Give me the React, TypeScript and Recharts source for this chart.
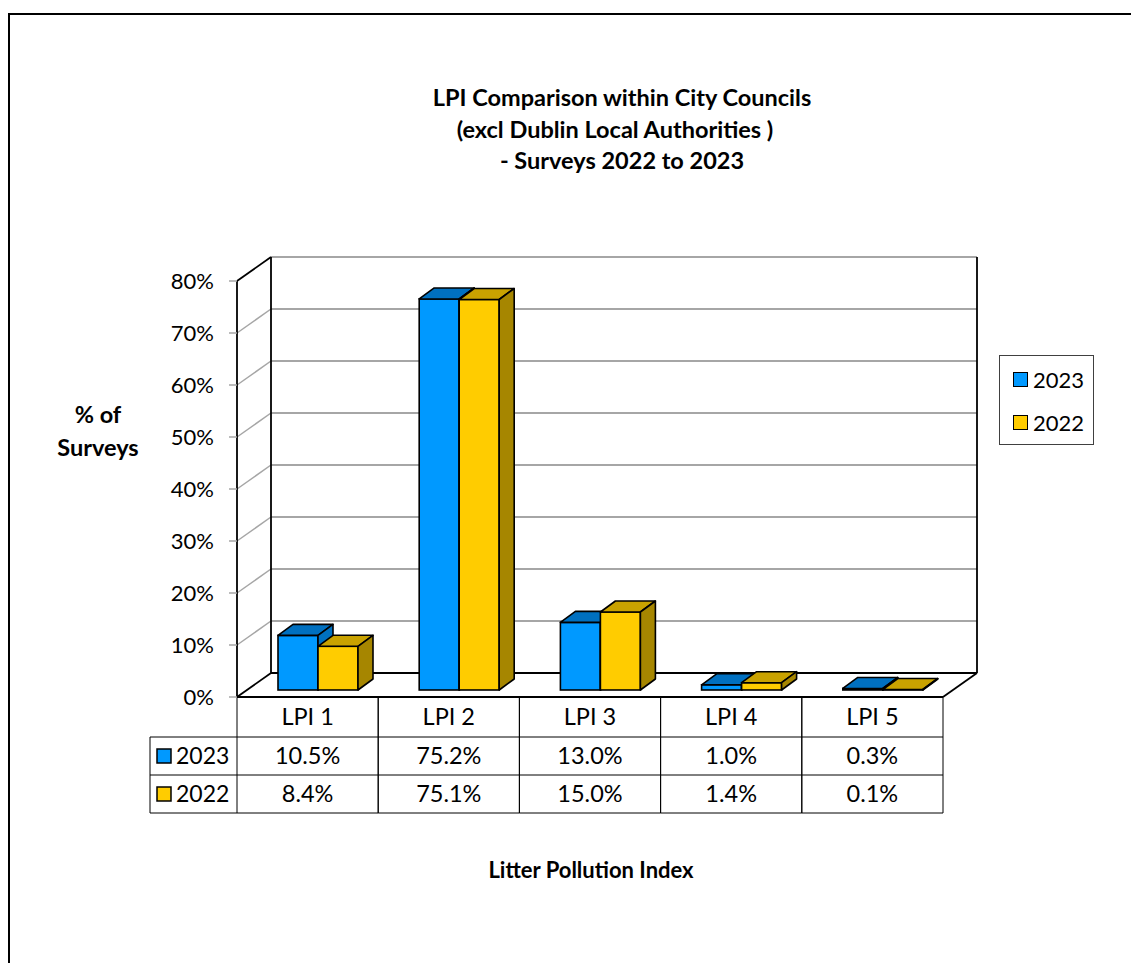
import React from 'react';
import { BarChart, Bar, XAxis, YAxis, CartesianGrid, ReferenceArea } from 'recharts';

const categories = ['LPI 1', 'LPI 2', 'LPI 3', 'LPI 4', 'LPI 5'];
const values2023 = [10.5, 75.2, 13.0, 1.0, 0.3];
const values2022 = [8.4, 75.1, 15.0, 1.4, 0.1];
const seriesNames = ['2023', '2022'];
const yTicks = [0, 10, 20, 30, 40, 50, 60, 70, 80];

const data = categories.map((name, i) => ({
  name,
  y2023: values2023[i],
  y2022: values2022[i],
}));

const FONT = 'Lato, "Open Sans", sans-serif';
const BLUE = '#0099FF';
const BLUE_DARK = '#0070C0';
const GOLD = '#FFCC00';
const GOLD_TOP = '#C9A200';
const GOLD_SIDE = '#A68600';
const GRID = '#A6A6A6';

// plot area (front plane)
const PLOT_LEFT = 237;
const PLOT_TOP = 281;
const PLOT_W = 706;
const PLOT_H = 416;
const PLOT_BOTTOM = PLOT_TOP + PLOT_H;
const CELL_W = PLOT_W / categories.length;

// 3d offsets
const WALL_DX = 34;
const WALL_DY = 24;
const BAR_OX = 10;
const BAR_OY = 7;
const BAR_DX = 15;
const BAR_DY = 11;

// data table rows
const ROW_TOP = [PLOT_BOTTOM, 737, 775];
const ROW_BOTTOM = 813;
const KEY_LEFT = 150;

const Bar3D = (props: any) => {
  const { x, y, width, height, front, top, side } = props;
  const fx = x + BAR_OX;
  const fy = y - BAR_OY;
  const h = Math.max(height, 0);
  const sw = 1.6;
  return (
    <g>
      <rect x={fx} y={fy} width={width} height={h} fill={front} stroke="#000" strokeWidth={sw} />
      <polygon
        points={`${fx},${fy} ${fx + BAR_DX},${fy - BAR_DY} ${fx + width + BAR_DX},${fy - BAR_DY} ${fx + width},${fy}`}
        fill={top}
        stroke="#000"
        strokeWidth={sw}
        strokeLinejoin="round"
      />
      <polygon
        points={`${fx + width},${fy} ${fx + width + BAR_DX},${fy - BAR_DY} ${fx + width + BAR_DX},${fy + h - BAR_DY} ${fx + width},${fy + h}`}
        fill={side}
        stroke="#000"
        strokeWidth={sw}
        strokeLinejoin="round"
      />
    </g>
  );
};

const gridLine = (p: any) => {
  const { x1, y1, x2, y2 } = p;
  const isFloor = Math.abs(y1 - PLOT_BOTTOM) < 1;
  const isTop = Math.abs(y1 - PLOT_TOP) < 1;
  return (
    <g key={`g-${y1}`}>
      <line
        x1={x1 + WALL_DX}
        y1={y1 - WALL_DY}
        x2={x2 + WALL_DX}
        y2={y2 - WALL_DY}
        stroke={isFloor ? '#000' : GRID}
        strokeWidth={isFloor ? 1.8 : 2}
      />
      <line
        x1={x1}
        y1={y1}
        x2={x1 + WALL_DX}
        y2={y1 - WALL_DY}
        stroke={isFloor || isTop ? '#000' : GRID}
        strokeWidth={isFloor || isTop ? 1.8 : 1.5}
      />
    </g>
  );
};

const Walls = (props: any) => {
  const { x, y, width, height } = props;
  const b = y + height;
  return (
    <g stroke="#000" strokeWidth={1.8} fill="none">
      <line x1={x + WALL_DX} y1={y - WALL_DY} x2={x + WALL_DX} y2={b - WALL_DY} />
      <line x1={x + width + WALL_DX} y1={y - WALL_DY} x2={x + width + WALL_DX} y2={b - WALL_DY} />
      <line x1={x + width} y1={b} x2={x + width + WALL_DX} y2={b - WALL_DY} />
      <line x1={x} y1={b} x2={x + width} y2={b} />
    </g>
  );
};

const YTick = (props: any) => {
  const { y, payload } = props;
  return (
    <g>
      <line x1={PLOT_LEFT - 8} y1={y} x2={PLOT_LEFT} y2={y} stroke={GRID} strokeWidth={1.5} />
      <text x={214} y={y} dy={8} textAnchor="end" fontFamily={FONT} fontSize={22} fill="#000">
        {`${payload.value}%`}
      </text>
    </g>
  );
};

const fmt = (v: number) => `${v.toFixed(1)}%`;

const TableTick = (props: any) => {
  const { x, payload } = props;
  const i = payload.index;
  const l = x - CELL_W / 2;
  const r = x + CELL_W / 2;
  const mid = (a: number, b: number) => (a + b) / 2 + 8;
  const txt = { fontFamily: FONT, fontSize: 23.5, fill: '#000', textAnchor: 'middle' as const };
  return (
    <g>
      <g stroke="#000" strokeWidth={1}>
        <line x1={l} y1={ROW_TOP[0]} x2={l} y2={ROW_BOTTOM} />
        <line x1={r} y1={ROW_TOP[0]} x2={r} y2={ROW_BOTTOM} />
        <line x1={l} y1={ROW_TOP[1]} x2={r} y2={ROW_TOP[1]} />
        <line x1={l} y1={ROW_TOP[2]} x2={r} y2={ROW_TOP[2]} />
        <line x1={l} y1={ROW_BOTTOM} x2={r} y2={ROW_BOTTOM} />
      </g>
      <text x={x} y={mid(ROW_TOP[0], ROW_TOP[1])} {...txt}>{payload.value}</text>
      <text x={x} y={mid(ROW_TOP[1], ROW_TOP[2])} {...txt}>{fmt(values2023[i])}</text>
      <text x={x} y={mid(ROW_TOP[2], ROW_BOTTOM)} {...txt}>{fmt(values2022[i])}</text>
      {i === 0 && (
        <g>
          <g stroke="#000" strokeWidth={1}>
            <line x1={KEY_LEFT} y1={ROW_TOP[1]} x2={l} y2={ROW_TOP[1]} />
            <line x1={KEY_LEFT} y1={ROW_TOP[2]} x2={l} y2={ROW_TOP[2]} />
            <line x1={KEY_LEFT} y1={ROW_BOTTOM} x2={l} y2={ROW_BOTTOM} />
            <line x1={KEY_LEFT} y1={ROW_TOP[1]} x2={KEY_LEFT} y2={ROW_BOTTOM} />
          </g>
          {seriesNames.map((s, k) => {
            const top = ROW_TOP[k + 1];
            const bottom = k === 0 ? ROW_TOP[2] : ROW_BOTTOM;
            const cy = (top + bottom) / 2;
            return (
              <g key={s}>
                <rect x={157} y={cy - 7} width={14} height={14} fill={k === 0 ? BLUE : GOLD} stroke="#000" strokeWidth={1.5} />
                <text x={176} y={cy + 8} fontFamily={FONT} fontSize={23} fill="#000">{s}</text>
              </g>
            );
          })}
        </g>
      )}
    </g>
  );
};

const LegendBox = () => (
  <div
    style={{
      position: 'absolute',
      left: 999,
      top: 355,
      width: 95,
      height: 90,
      boxSizing: 'border-box',
      border: '1px solid #404040',
      background: '#fff',
      paddingTop: 10,
      paddingLeft: 13,
      fontFamily: FONT,
      fontSize: 22,
    }}
  >
    {seriesNames.map((s, k) => (
      <div key={s} style={{ display: 'flex', alignItems: 'center', height: 26, marginBottom: k === 0 ? 17 : 0 }}>
        <span
          style={{
            display: 'inline-block',
            width: 13,
            height: 13,
            background: k === 0 ? BLUE : GOLD,
            border: '1.5px solid #000',
            marginRight: 5,
          }}
        />
        <span>{s}</span>
      </div>
    ))}
  </div>
);

export default function App() {
  return (
    <div
      style={{
        position: 'absolute',
        left: 0,
        top: 0,
        width: 1131,
        height: 963,
        overflow: 'hidden',
        background: '#fff',
        fontFamily: FONT,
      }}
    >
      <div
        style={{
          position: 'absolute',
          left: 8,
          top: 13,
          width: 1200,
          height: 1000,
          border: '2px solid #000',
        }}
      />
      <div
        style={{
          position: 'absolute',
          left: 272,
          top: 82,
          width: 700,
          textAlign: 'center',
          fontWeight: 700,
          fontSize: 23.5,
          lineHeight: '31.5px',
          color: '#000',
        }}
      >
        <div>LPI Comparison within City Councils</div>
        <div style={{ paddingRight: 14 }}>(excl Dublin Local Authorities )</div>
        <div>- Surveys 2022 to 2023</div>
      </div>
      <div
        style={{
          position: 'absolute',
          left: 30,
          top: 398,
          width: 136,
          textAlign: 'center',
          fontWeight: 700,
          fontSize: 23.5,
          lineHeight: '33px',
        }}
      >
        <div>% of</div>
        <div>Surveys</div>
      </div>
      <div
        style={{
          position: 'absolute',
          left: 391,
          top: 856,
          width: 400,
          textAlign: 'center',
          fontWeight: 700,
          fontSize: 22,
        }}
      >
        Litter Pollution Index
      </div>
      <div style={{ position: 'absolute', left: 0, top: 0 }}>
        <BarChart
          width={1131}
          height={963}
          data={data}
          margin={{ top: PLOT_TOP, right: 1131 - PLOT_LEFT - PLOT_W, bottom: 150, left: PLOT_LEFT - 60 }}
          barSize={40}
          barGap={0}
        >
          <CartesianGrid horizontal={gridLine} vertical={false} />
          <ReferenceArea y1={0} y2={80} shape={Walls} ifOverflow="visible" />
          <XAxis
            dataKey="name"
            height={116}
            axisLine={false}
            tickLine={false}
            tick={TableTick}
            interval={0}
          />
          <YAxis
            width={60}
            domain={[0, 80]}
            ticks={yTicks}
            axisLine={{ stroke: '#000', strokeWidth: 1.8 }}
            tickLine={false}
            tick={YTick}
            interval={0}
          />
          <Bar
            dataKey="y2023"
            name={seriesNames[0]}
            fill={BLUE}
            isAnimationActive={false}
            shape={(p: any) => <Bar3D {...p} front={BLUE} top={BLUE_DARK} side={BLUE_DARK} />}
          />
          <Bar
            dataKey="y2022"
            name={seriesNames[1]}
            fill={GOLD}
            isAnimationActive={false}
            shape={(p: any) => <Bar3D {...p} front={GOLD} top={GOLD_TOP} side={GOLD_SIDE} />}
          />
        </BarChart>
      </div>
      <LegendBox />
    </div>
  );
}
